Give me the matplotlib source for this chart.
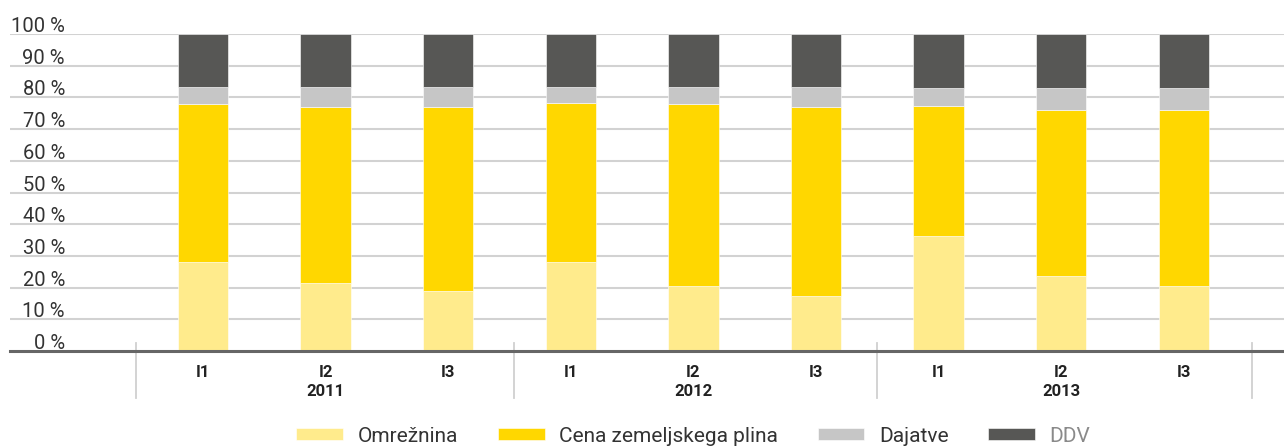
import matplotlib.pyplot as plt
import matplotlib.transforms as mtransforms

# share of the final gas price per consumer group (%)
kvartali = ["I1", "I2", "I3"] * 3
leta = ["2011", "2012", "2013"]
omreznina = [28.1, 21.3, 19.0, 28.1, 20.4, 17.3, 36.3, 23.7, 20.5]
cena_plina = [49.7, 55.7, 58.0, 50.2, 57.4, 59.7, 41.1, 52.4, 55.6]
dajatve = [5.5, 6.3, 6.3, 5.0, 5.5, 6.3, 5.5, 6.8, 6.8]
ddv = [16.7, 16.7, 16.7, 16.7, 16.7, 16.7, 17.1, 17.1, 17.1]

serije = [
    ("Omrežnina", omreznina, "#FFEB8C"),
    ("Cena zemeljskega plina", cena_plina, "#FFD700"),
    ("Dajatve", dajatve, "#C6C6C6"),
    ("DDV", ddv, "#575755"),
]

plt.rcParams["font.family"] = ["Roboto", "DejaVu Sans"]

fig = plt.figure(figsize=(12.84, 4.48), dpi=100)
ax = fig.add_axes([10 / 1284, 97 / 448, 1274 / 1284, 317 / 448])

x = list(range(len(kvartali)))
dno = [0.0] * len(x)
for ime, vrednosti, barva in serije:
    ax.bar(x, vrednosti, bottom=dno, width=0.41, color=barva, label=ime,
           edgecolor="white", linewidth=0.4, zorder=3)
    dno = [d + v for d, v in zip(dno, vrednosti)]

ax.set_xlim(-1.574, 8.817)
ax.set_ylim(0, 100)

# y axis: labels sit above the gridlines, inside the plot area
ax.set_yticks(range(0, 101, 10))
ax.set_yticklabels([f"{v} %" for v in range(0, 101, 10)], fontsize=14.5, color="#333333")
ax.tick_params(axis="y", length=0, pad=0)
premik = mtransforms.ScaledTranslation(0.55, 0.095, fig.dpi_scale_trans)
for lbl in ax.get_yticklabels():
    lbl.set_transform(lbl.get_transform() + premik)
    lbl.set_horizontalalignment("right")

for v in range(10, 101, 10):
    ax.axhline(v, color="#D2D2D2", linewidth=1.5, zorder=1)

for s in ["top", "right", "left"]:
    ax.spines[s].set_visible(False)
ax.spines["bottom"].set_color("#666666")
ax.spines["bottom"].set_linewidth(2.2)
ax.spines["bottom"].set_zorder(4)

# x axis: quarter labels and year labels underneath
ax.set_xticks(x)
ax.set_xticklabels(kvartali, fontsize=12, fontweight="bold", color="#222222")
ax.tick_params(axis="x", length=0, pad=10)

trans = mtransforms.blended_transform_factory(ax.transData, ax.transAxes)
for i, leto in enumerate(leta):
    ax.text(3 * i + 1, -0.128, leto, transform=trans, ha="center", va="center",
            fontsize=12, fontweight="bold", color="#222222")

for xs in [-0.547, 2.537, 5.497, 8.556]:
    ax.plot([xs, xs], [0.025, -0.148], transform=trans, color="#D0D0D0",
            linewidth=1.3, clip_on=False)

leg = fig.legend(loc="center", ncol=4, frameon=False, fontsize=15,
                 handlelength=2.25, handleheight=0.55, handletextpad=0.7,
                 columnspacing=1.9)
for t in leg.get_texts():
    t.set_color("#333333")
leg.get_texts()[-1].set_color("#8A8A8A")
leg.set_bbox_to_anchor((0.54, 1 - 436 / 448), transform=fig.transFigure)

fig.savefig("out.png", dpi=100)
